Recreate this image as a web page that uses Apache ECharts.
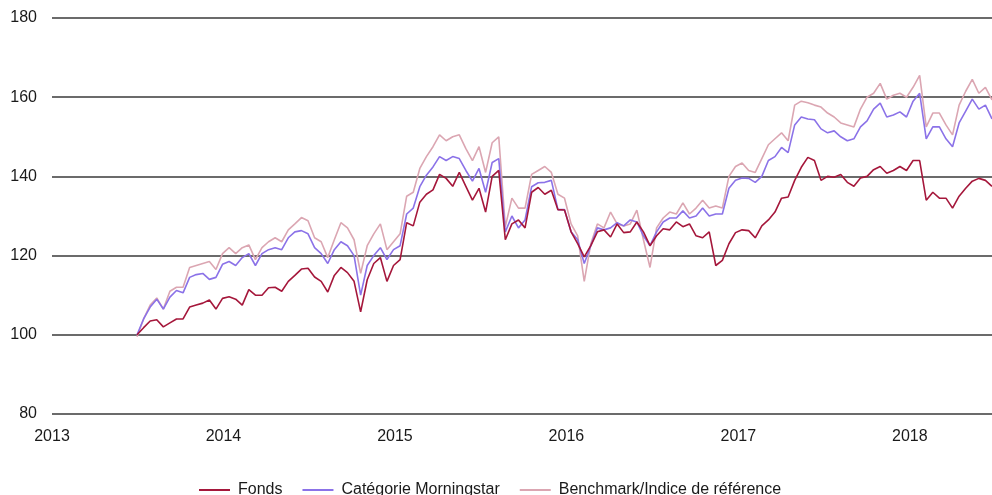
<!DOCTYPE html>
<html>
<head>
<meta charset="utf-8">
<script src="https://cdn.jsdelivr.net/npm/echarts@6/dist/echarts.min.js"></script>
<style>
  html, body { margin: 0; padding: 0; background: #fff; }
  #chart { width: 992px; height: 495px; }
</style>
</head>
<body>
<div id="chart"></div>
<script>
// Fortnightly observations, base 100 on 2013-07-01
const firstDate = '2013-07-01';
const stepDays = 14;

const seriesNames = ['Fonds', 'Catégorie Morningstar', 'Benchmark/Indice de référence'];

const fonds = [
  100, 101.8, 103.5, 103.8, 102, 103, 104, 104, 107, 107.5,
  108, 108.8, 106.5, 109.2, 109.6, 109, 107.5, 111.4, 110, 110,
  111.9, 112, 111, 113.5, 115, 116.6, 116.8, 114.6, 113.5, 110.8,
  115, 117, 115.7, 113.5, 105.8, 113.9, 118, 119.5, 113.5, 117.5,
  119, 128.3, 127.5, 133.5, 135.5, 136.6, 140.5, 139.5, 137.5, 141,
  137.5, 134, 137, 131, 140, 141.5, 124, 128, 129, 127,
  136, 137.2, 135.5, 136.5, 131.6, 131.5, 126, 123, 119.7, 122.5,
  126, 126.5, 124.7, 128, 125.8, 126, 128.5, 126, 122.5, 125,
  126.8, 126.5, 128.5, 127.3, 128, 125, 124.5, 126, 117.5, 118.8,
  123, 125.8, 126.5, 126.3, 124.5, 127.5, 129, 131, 134.5, 134.8,
  139, 142.3, 144.8, 144, 139, 140, 139.8, 140.5, 138.5, 137.5,
  139.6, 140, 141.7, 142.5, 140.8, 141.5, 142.5, 141.5, 144, 144,
  134, 136, 134.5, 134.5, 132, 135, 137, 138.8, 139.5, 139,
  137.5
];

const categorie = [
  100, 104, 107, 109, 106.5, 109.5, 111.2, 110.6, 114.5, 115.2,
  115.5, 114, 114.5, 117.8, 118.5, 117.5, 119.5, 120.5, 117.5, 120.5,
  121.5, 122, 121.5, 124.5, 126, 126.3, 125.5, 122, 120.5, 118,
  121.5, 123.5, 122.5, 120, 110, 117.5, 120, 122, 119, 121.5,
  122.5, 130.5, 132, 137.4, 140.3, 142.4, 145, 144, 145, 144.5,
  141.5, 138.8, 142, 136, 143.5, 144.5, 126, 130, 127, 129,
  137.4, 138.4, 138.5, 139, 131.6, 131.6, 126, 124, 118, 122.5,
  127, 126.5, 127, 128.3, 127.5, 129, 128.5, 125, 122.5, 126,
  128.5, 129.5, 129.5, 131.3, 129.5, 130, 132, 130, 130.5, 130.5,
  137, 139, 139.6, 139.5, 138.5, 140, 144, 145, 147.3, 146,
  153, 155, 154.5, 154.3, 152, 151, 151.5, 150, 149, 149.5,
  152.5, 154, 157, 158.5, 155, 155.5, 156.3, 155, 159, 161,
  149.5, 152.5, 152.5, 149.5, 147.5, 153.5, 156.5, 159.5, 157, 158,
  154.5
];

const benchmark = [
  99.5, 104, 107.5, 109.3, 106.5, 111, 112, 112, 117, 117.5,
  118, 118.5, 116.5, 120.5, 122, 120.5, 122, 122.7, 119, 122,
  123.5, 124.5, 123.5, 126.5, 128, 129.6, 128.8, 124.5, 123.5, 119.5,
  124, 128.3, 127, 124, 115.5, 122.5, 125.5, 128, 121.5, 123.5,
  125.5, 135, 136, 142, 145, 147.5, 150.5, 149, 150, 150.5,
  147, 144, 147.5, 141, 148.5, 150, 127.3, 134.5, 132, 132,
  140.5, 141.5, 142.5, 141, 135.5, 134.5, 128, 125, 113.5, 123,
  128, 127, 131, 128, 127.5, 128, 131.5, 124, 117, 127,
  129.5, 131, 130.5, 133.3, 130.5, 132, 134, 132, 132.5, 132,
  140, 142.5, 143.4, 141.5, 141, 144.5, 148, 149.5, 151, 149,
  158, 159, 158.6, 158, 157.5, 156, 155, 153.5, 153, 152.5,
  157, 160, 161, 163.5, 159.5, 160.5, 161, 160, 162.5, 165.5,
  152.5, 156, 156, 153, 150.5, 158, 161.5, 164.5, 161, 162.5,
  159.3
];

const yTicks = { min: 80, max: 180, interval: 20 };
const colors = { fonds: '#a5173b', categorie: '#8b72e8', benchmark: '#dba6b2' };

// Observation calendar
const DAY = 86400000;
const t0 = new Date(firstDate + 'T00:00:00Z').getTime();
const dates = fonds.map((_, i) => t0 + i * stepDays * DAY);
const pairs = arr => arr.map((v, i) => [dates[i], v]);

const chart = echarts.init(document.getElementById('chart'), null, { renderer: 'canvas' });

const font = { fontFamily: 'Liberation Sans, Arial, sans-serif', fontSize: 16, color: '#1a1a1a' };

chart.setOption({
  animation: false,
  backgroundColor: '#ffffff',
  grid: { left: 52, right: 0, top: 18, bottom: 81, containLabel: false },
  legend: {
    data: seriesNames,
    top: 477,
    left: 194,
    itemGap: 20,
    itemWidth: 31,
    itemHeight: 2,
    icon: 'rect',
    textStyle: Object.assign({ padding: [0, 0, 0, 3] }, font)
  },
  xAxis: {
    type: 'time',
    min: '2013-01-01',
    max: dates[dates.length - 1],
    minInterval: 365 * DAY,
    maxInterval: 366 * DAY,
    axisLine: { show: false },
    axisTick: { show: false },
    splitLine: { show: false },
    axisLabel: Object.assign({ margin: 15, formatter: '{yyyy}', hideOverlap: false }, font)
  },
  yAxis: {
    type: 'value',
    min: yTicks.min,
    max: yTicks.max,
    interval: yTicks.interval,
    axisLine: { show: false },
    axisTick: { show: false },
    splitLine: { show: true, lineStyle: { color: '#3a3a3a', width: 1.5 } },
    axisLabel: Object.assign({ margin: 15 }, font)
  },
  series: [
    {
      name: seriesNames[2], type: 'line', data: pairs(benchmark),
      showSymbol: false, color: colors.benchmark,
      lineStyle: { width: 1.6, color: colors.benchmark }, z: 2
    },
    {
      name: seriesNames[1], type: 'line', data: pairs(categorie),
      showSymbol: false, color: colors.categorie,
      lineStyle: { width: 1.6, color: colors.categorie }, z: 3
    },
    {
      name: seriesNames[0], type: 'line', data: pairs(fonds),
      showSymbol: false, color: colors.fonds,
      lineStyle: { width: 1.6, color: colors.fonds }, z: 4
    }
  ]
});
</script>
</body>
</html>
